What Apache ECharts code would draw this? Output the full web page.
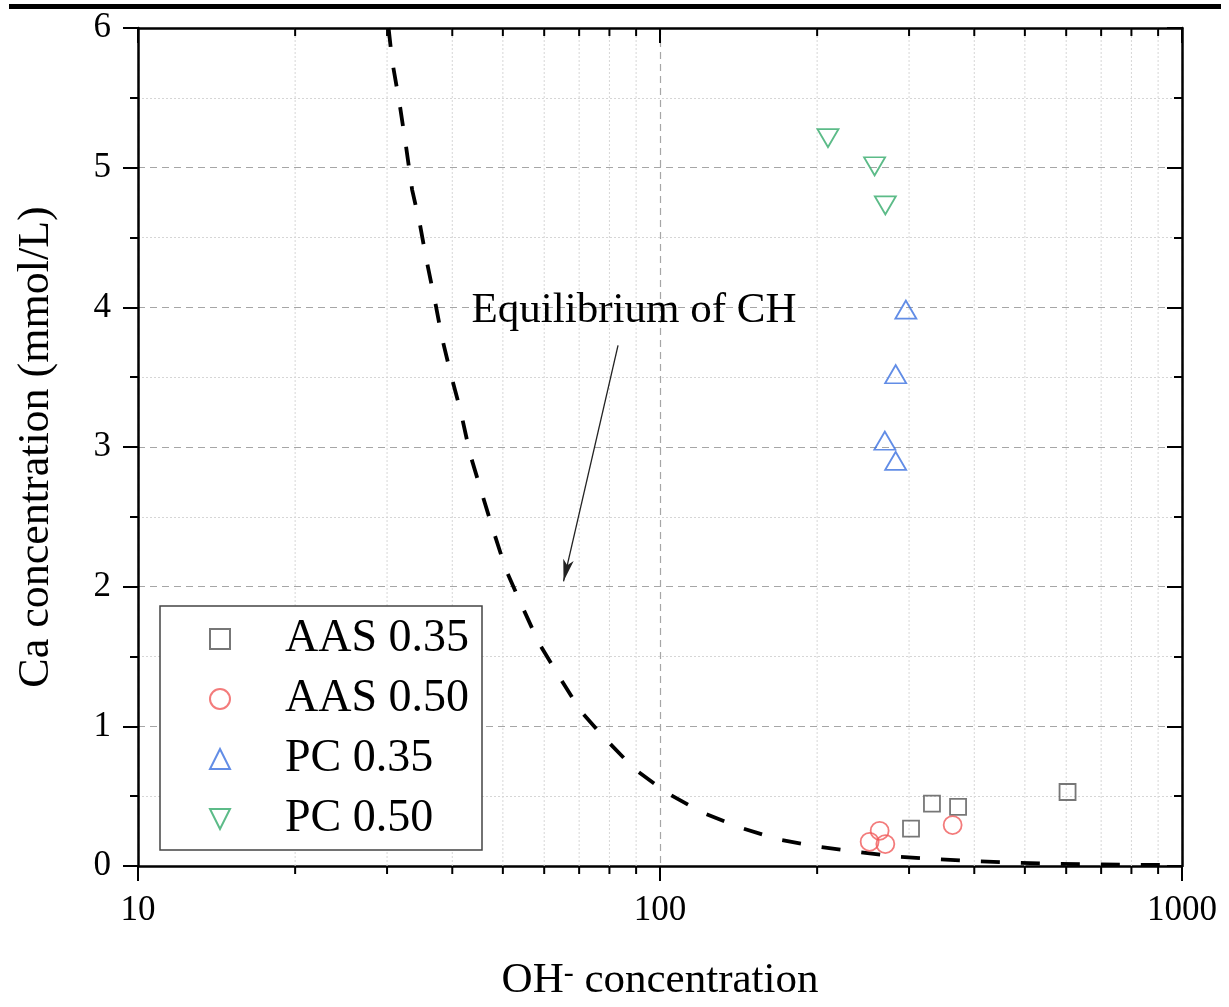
<!DOCTYPE html>
<html><head><meta charset="utf-8">
<script src="https://cdn.jsdelivr.net/npm/echarts@6/dist/echarts.min.js"></script>
<style>html,body{margin:0;padding:0;background:#fff;overflow:hidden}#c{width:1229px;height:1007px}</style>
</head><body><div id="c"></div>
<script>
// ---- data ----
const xMin = 10, xMax = 1000;
const yMin = 0, yMax = 6, yStep = 1;
const minorX = [20,30,40,50,60,70,80,90,200,300,400,500,600,700,800,900];

const aas035OH = [302.6, 331.9, 372.4, 603.6];
const aas035Ca = [0.268, 0.447, 0.423, 0.530];
const aas050OH = [252.1, 263.5, 270.2, 363.6];
const aas050Ca = [0.173, 0.252, 0.157, 0.293];
const pc035OH = [295.8, 282.8, 269.6, 282.8];
const pc035Ca = [3.983, 3.521, 3.045, 2.901];
const pc050OH = [209.8, 257.7, 270.2];
const pc050Ca = [5.212, 5.010, 4.730];

const curveOH = [30.2, 30.69, 31.72, 32.61, 33.51, 34.65, 35.70, 37.08, 38.23, 39.71, 41.46, 43.29, 45.52, 47.87, 50.72, 54.40, 58.53, 63.93, 70.36, 78.58, 89.29, 103.1, 120.9, 142.5, 168.7, 201.3, 240.2, 286.5, 334.3, 400, 490, 580, 690, 800, 920];
const curveCa = [6.0, 5.763, 5.453, 5.156, 4.841, 4.602, 4.338, 4.041, 3.782, 3.526, 3.263, 2.946, 2.676, 2.408, 2.118, 1.862, 1.600, 1.363, 1.113, 0.910, 0.696, 0.523, 0.380, 0.275, 0.190, 0.138, 0.100, 0.066, 0.050, 0.034, 0.023, 0.016, 0.012, 0.009, 0.007];

const arrowOH = [83.1, 65.34];
const arrowCa = [3.728, 2.038];

const names = ['AAS 0.35', 'AAS 0.50', 'PC 0.35', 'PC 0.50'];
const annotation = 'Equilibrium of CH';

// ---- chart ----
const zip = (a, b) => a.map((v, i) => [v, b[i]]);
const FONT = '"Liberation Serif", "Times New Roman", serif';
const chart = echarts.init(document.getElementById('c'), null, {renderer: 'canvas', width: 1229, height: 1007});

const axisLine = {show: true, onZero: false, lineStyle: {color: '#000', width: 2.5}};
const majorGrid = {show: true, lineStyle: {color: '#a6a6a6', width: 1.2, type: [7, 5]}};

function scatter(name, data, symbol, size, color, rotate) {
  return {
    type: 'scatter', name, data, symbol, symbolSize: size, symbolRotate: rotate || 0,
    itemStyle: {color: 'rgba(0,0,0,0)', borderColor: color, borderWidth: 1.8},
    z: 5, silent: true
  };
}

const option = {
  animation: false,
  backgroundColor: '#fff',
  grid: {left: 138, width: 1044, top: 28, height: 841, containLabel: false},
  xAxis: [{
    type: 'log', logBase: 10, min: xMin, max: xMax, position: 'bottom',
    axisLine,
    axisTick: {show: true, inside: false, length: 15, lineStyle: {color: '#000', width: 2}},
    axisLabel: {show: true, margin: 27, fontSize: 35, fontFamily: FONT, color: '#000', formatter: v => String(Math.round(v))},
    splitLine: majorGrid,
    name: 'OH{sup|-} concentration', nameLocation: 'middle', nameGap: 93,
    nameTextStyle: {fontSize: 43, fontFamily: FONT, color: '#000',
      rich: {sup: {fontSize: 30, fontFamily: FONT, color: '#000', verticalAlign: 'top', lineHeight: 20}}}
  }, {
    type: 'log', logBase: 10, min: xMin, max: xMax, position: 'top',
    axisLine,
    axisTick: {show: true, inside: true, length: 15, lineStyle: {color: '#000', width: 2}},
    axisLabel: {show: false}, splitLine: {show: false}
  }],
  yAxis: [{
    type: 'value', min: yMin, max: yMax, interval: yStep, position: 'left',
    axisLine,
    axisTick: {show: true, inside: false, length: 15, lineStyle: {color: '#000', width: 2}},
    minorTick: {show: true, splitNumber: 2, length: 8, lineStyle: {color: '#000', width: 2}},
    axisLabel: {show: true, margin: 27, fontSize: 35, fontFamily: FONT, color: '#000'},
    splitLine: majorGrid,
    minorSplitLine: {show: true, lineStyle: {color: '#d6d6d6', width: 1, type: [2, 2]}},
    name: 'Ca concentration (mmol/L)', nameLocation: 'middle', nameGap: 80,
    nameTextStyle: {fontSize: 44, fontFamily: FONT, color: '#000'}
  }, {
    type: 'value', min: yMin, max: yMax, interval: yStep, position: 'right',
    axisLine,
    axisTick: {show: true, inside: true, length: 15, lineStyle: {color: '#000', width: 2}},
    minorTick: {show: true, splitNumber: 2, length: 8, lineStyle: {color: '#000', width: 2}},
    axisLabel: {show: false}, splitLine: {show: false}
  }],
  legend: {
    data: [
      {name: names[0]},
      {name: names[1]},
      {name: names[2]},
      {name: names[3], icon: 'path://M0,0L2,0L1,2Z'}
    ],
    orient: 'vertical', left: 160, top: 606,
    padding: [8, 9, 6, 49], itemGap: 10, itemWidth: 20, itemHeight: 20,
    borderColor: '#444', borderWidth: 1.5, backgroundColor: '#fff',
    textStyle: {fontSize: 46, fontFamily: FONT, color: '#000', lineHeight: 50, padding: [0, 0, 0, 50], width: 188},
    selectedMode: false
  },
  graphic: [
    {type: 'rect', left: 9, top: 4, shape: {width: 1212, height: 5}, style: {fill: '#000'}, z: 100},
    {type: 'text', x: 634, y: 311, style: {text: annotation, fontSize: 43, fontFamily: FONT, fill: '#000', align: 'center', verticalAlign: 'middle'}, z: 100}
  ],
  series: [
    {
      type: 'custom', name: 'minor', silent: true, z: 1,
      xAxisIndex: 0, yAxisIndex: 0,
      data: minorX.map(v => [v, yMin]),
      encode: {x: 0, y: 1},
      renderItem(params, api) {
        const x = api.value(0);
        const p0 = api.coord([x, yMin]);
        const p1 = api.coord([x, yMax]);
        return {type: 'group', children: [
          {type: 'line', shape: {x1: p0[0], y1: p0[1], x2: p1[0], y2: p1[1]}, style: {stroke: '#d6d6d6', lineWidth: 1, lineDash: [2, 2]}},
          {type: 'line', shape: {x1: p0[0], y1: p0[1], x2: p0[0], y2: p0[1] + 8}, style: {stroke: '#000', lineWidth: 2}},
          {type: 'line', shape: {x1: p1[0], y1: p1[1], x2: p1[0], y2: p1[1] + 8}, style: {stroke: '#000', lineWidth: 2}}
        ]};
      }
    },
    {
      type: 'line', name: 'CH', data: zip(curveOH, curveCa), showSymbol: false, symbol: 'none',
      lineStyle: {color: '#000', width: 3.8, type: [19, 21], cap: 'butt'}, z: 4, silent: true, clip: true,
      markLine: {
        silent: true, symbol: ['none', 'arrow'], symbolSize: [8, 22],
        lineStyle: {color: '#222', width: 1.3, type: 'solid'}, label: {show: false},
        data: [[{coord: [arrowOH[0], arrowCa[0]]}, {coord: [arrowOH[1], arrowCa[1]]}]]
      }
    },
    scatter(names[0], zip(aas035OH, aas035Ca), 'rect', 16, '#555555'),
    scatter(names[1], zip(aas050OH, aas050Ca), 'circle', 18, '#f05a5a'),
    scatter(names[2], zip(pc035OH, pc035Ca), 'triangle', [21, 18], '#3b70e0'),
    scatter(names[3], zip(pc050OH, pc050Ca), 'triangle', [21, 18], '#33aa6a', 180)
  ]
};
chart.setOption(option);
</script>
</body></html>
